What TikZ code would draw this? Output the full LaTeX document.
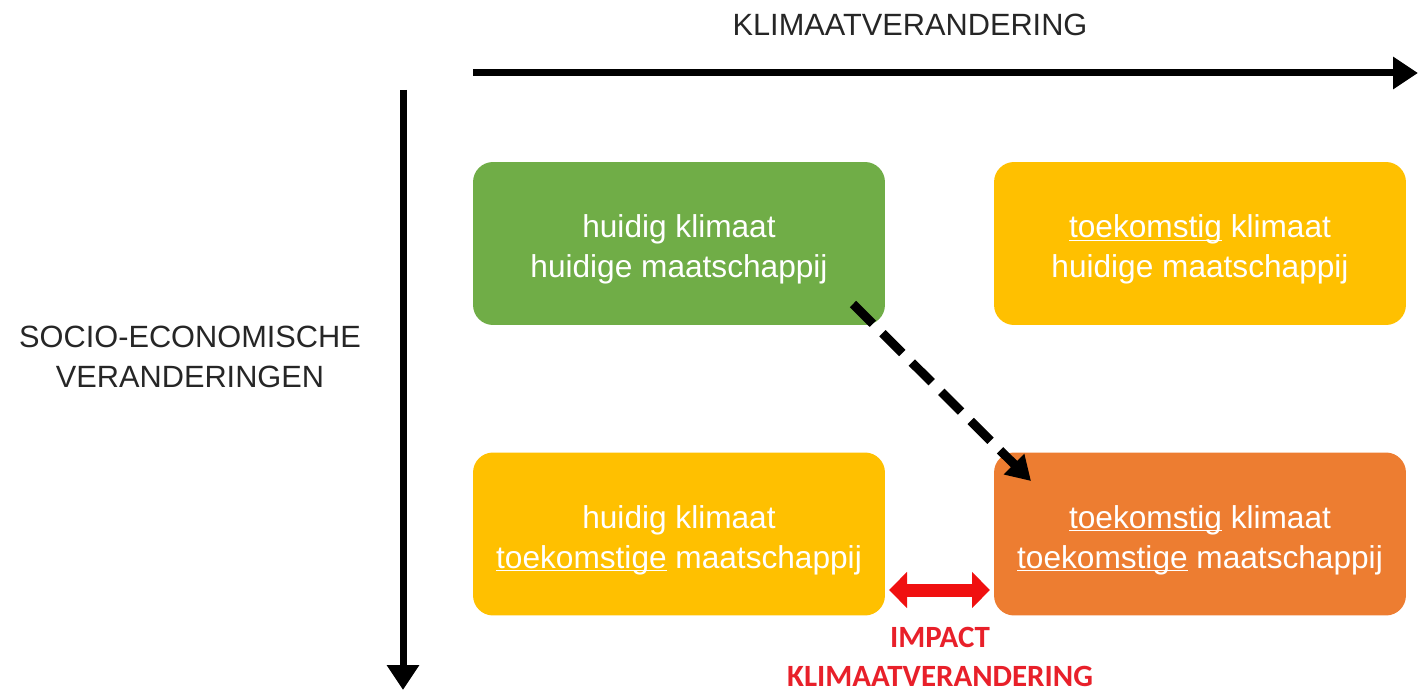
\documentclass[tikz,border=0pt]{standalone}
\usepackage{fontspec}
\setmainfont{Liberation Sans}
\newfontfamily\calfont{Carlito}
\usetikzlibrary{arrows.meta}
\definecolor{mgreen}{HTML}{70AD47}
\definecolor{myellow}{HTML}{FFC000}
\definecolor{morange}{HTML}{ED7D31}
\definecolor{mred}{HTML}{E8202A}
\definecolor{mredarrow}{HTML}{F01010}
\newcommand{\ulword}[1]{\underline{\smash{#1}}}
\begin{document}
\begin{tikzpicture}[x=0.02cm,y=-0.02cm,
  box/.style={rounded corners=0.4cm, minimum width=8.24cm, minimum height=3.26cm, inner sep=0pt},
  boxtext/.style={text=white, align=center, font=\fontsize{18}{22.7}\selectfont, inner sep=0pt},
  axislabel/.style={align=center, font=\fontsize{17.5}{23.2}\selectfont, text=black!85},
  axisarrow/.style={line width=0.14cm, -{Triangle[length=0.5cm,width=0.62cm]}},
  impactlabel/.style={align=center, text=mred, font=\calfont\bfseries\fontsize{17.6}{22.4}\selectfont}
]
\useasboundingbox (0,0) rectangle (1418,696);

% axes
\coordinate (ka) at (473,73);
\coordinate (kb) at (1418,73);
\coordinate (sa) at (403,90);
\coordinate (sb) at (403,690);
\draw[axisarrow] (ka) -- (kb);
\draw[axisarrow] (sa) -- (sb);

\node[axislabel] (klim) at (910,25) {KLIMAATVERANDERING};
\node[axislabel] (socio) at (190,357) {SOCIO-ECONOMISCHE\\VERANDERINGEN};

% boxes
\node[box, fill=mgreen] (b1) at (679,243.5) {};
\node[box, fill=myellow] (b2) at (1200,243.5) {};
\node[box, fill=myellow] (b3) at (679,534) {};
\node[box, fill=morange] (b4) at (1200,534) {};
\node[boxtext] (t1) at ([yshift=-0.12cm]b1.center) {huidig klimaat\\huidige maatschappij};
\node[boxtext] (t2) at ([yshift=-0.12cm]b2.center) {\ulword{toekomstig} klimaat\\huidige maatschappij};
\node[boxtext] (t3) at ([yshift=-0.12cm]b3.center) {huidig klimaat\\\ulword{toekomstige} maatschappij};
\node[boxtext] (t4) at ([yshift=-0.12cm]b4.center) {\ulword{toekomstig} klimaat\\\ulword{toekomstige} maatschappij};

% dashed arrow
\coordinate (d1) at (853,304);
\coordinate (d2) at (1031,481);
\draw[line width=0.18cm, dash pattern=on 0.56cm off 0.27cm,
  -{Triangle[length=0.48cm,width=0.55cm]}] (d1) -- (d2);

% red double arrow
\coordinate (r1) at (889,590);
\coordinate (r2) at (990,590);
\draw[mredarrow, line width=0.26cm,
  {Triangle[length=0.36cm,width=0.7cm]}-{Triangle[length=0.36cm,width=0.7cm]}] (r1) -- (r2);

\node[impactlabel] (impact) at (940,657) {IMPACT\\KLIMAATVERANDERING};
\end{tikzpicture}
\end{document}
